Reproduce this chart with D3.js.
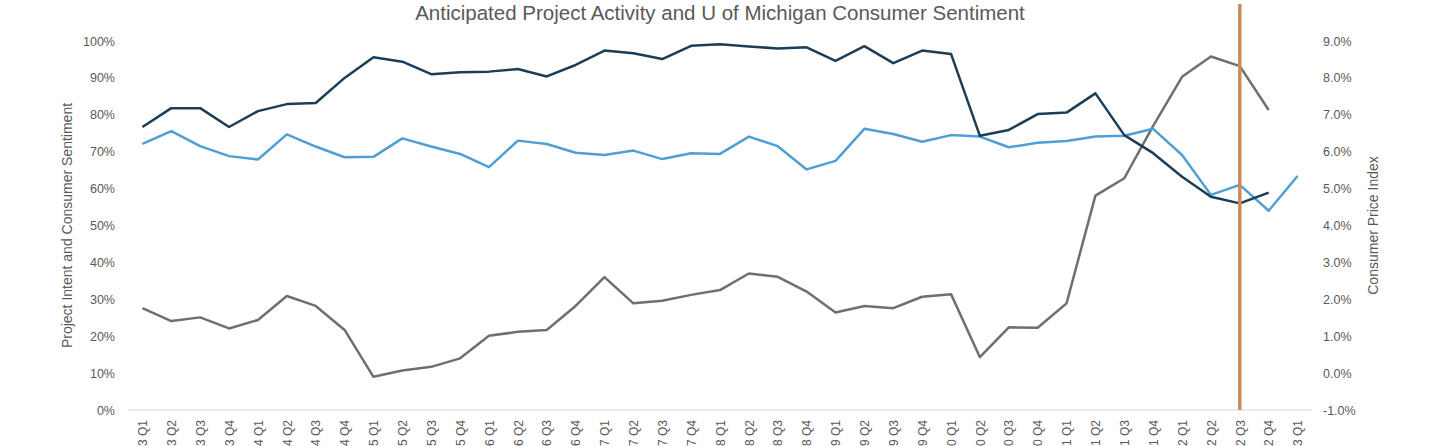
<!DOCTYPE html>
<html>
<head>
<meta charset="utf-8">
<script src="https://cdn.jsdelivr.net/npm/d3@7"></script>
<style>
  html, body { margin: 0; padding: 0; background: #fff; overflow: hidden; }
  svg { display: block; font-family: "Liberation Sans", Arial, sans-serif; }
</style>
</head>
<body>
<svg id="chart" width="1440" height="446"></svg>
<script>
const categories = [
  "2013 Q1","2013 Q2","2013 Q3","2013 Q4",
  "2014 Q1","2014 Q2","2014 Q3","2014 Q4",
  "2015 Q1","2015 Q2","2015 Q3","2015 Q4",
  "2016 Q1","2016 Q2","2016 Q3","2016 Q4",
  "2017 Q1","2017 Q2","2017 Q3","2017 Q4",
  "2018 Q1","2018 Q2","2018 Q3","2018 Q4",
  "2019 Q1","2019 Q2","2019 Q3","2019 Q4",
  "2020 Q1","2020 Q2","2020 Q3","2020 Q4",
  "2021 Q1","2021 Q2","2021 Q3","2021 Q4",
  "2022 Q1","2022 Q2","2022 Q3","2022 Q4",
  "2023 Q1"
];

// Project intent (left axis, %)
const projectIntent = [
  76.7, 81.8, 81.8, 76.7, 81.0, 82.9, 83.2, 90.0,
  95.6, 94.4, 91.0, 91.5, 91.7, 92.4, 90.4, 93.5,
  97.4, 96.7, 95.1, 98.7, 99.1, 98.5, 98.0, 98.3,
  94.6, 98.6, 94.0, 97.4, 96.5, 74.3, 75.9, 80.2,
  80.6, 85.8, 74.5, 69.6, 63.2, 57.8, 56.0, 58.9, null
];

// U of Michigan consumer sentiment (left axis, %)
const consumerSentiment = [
  72.1, 75.6, 71.5, 68.8, 67.9, 74.7, 71.4, 68.5,
  68.6, 73.6, 71.4, 69.4, 65.8, 73.0, 72.1, 69.7,
  69.1, 70.3, 68.0, 69.6, 69.4, 74.1, 71.5, 65.2,
  67.5, 76.2, 74.8, 72.7, 74.5, 74.1, 71.2, 72.4,
  72.9, 74.1, 74.3, 76.2, 69.1, 58.3, 61.0, 54.0, 63.4
];

// Consumer price index (right axis, %)
const cpi = [
  1.76, 1.41, 1.51, 1.21, 1.44, 2.09, 1.82, 1.17,
  -0.10, 0.07, 0.17, 0.40, 1.01, 1.12, 1.17, 1.82,
  2.60, 1.89, 1.96, 2.12, 2.25, 2.70, 2.61, 2.21,
  1.64, 1.82, 1.76, 2.07, 2.14, 0.43, 1.24, 1.23,
  1.89, 4.81, 5.28, 6.70, 8.03, 8.58, 8.32, 7.13, null
];

const leftTicks = [0, 10, 20, 30, 40, 50, 60, 70, 80, 90, 100];
const rightTicks = [-1, 0, 1, 2, 3, 4, 5, 6, 7, 8, 9];
const markerCategory = "2022 Q3";

const title = "Anticipated Project Activity and U of Michigan Consumer Sentiment";
const leftTitle = "Project Intent and Consumer Sentiment";
const rightTitle = "Consumer Price Index";

const svg = d3.select("#chart");
const plot = { left: 128, right: 1312, top: 41, bottom: 410 };
const textColor = "#595959";

const x = d3.scalePoint().domain(categories).range([plot.left, plot.right]).padding(0.5);
const yL = d3.scaleLinear().domain([0, 100]).range([plot.bottom, plot.top]);
const yR = d3.scaleLinear().domain([-1, 9]).range([plot.bottom, plot.top]);

// Baseline
svg.append("line")
  .attr("x1", plot.left).attr("x2", plot.right)
  .attr("y1", plot.bottom).attr("y2", plot.bottom)
  .attr("stroke", "#d9d9d9").attr("stroke-width", 1);

// Left axis
const leftAxis = d3.axisLeft(yL).tickValues(leftTicks).tickSize(0).tickPadding(0)
  .tickFormat(d => d + "%");
const gL = svg.append("g").attr("transform", `translate(${115},0)`).call(leftAxis);
gL.select(".domain").remove();
gL.selectAll("text").attr("fill", textColor).attr("font-size", 12.5)
  .attr("font-family", "Liberation Sans, Arial, sans-serif");

// Right axis
const rightAxis = d3.axisRight(yR).tickValues(rightTicks).tickSize(0).tickPadding(0)
  .tickFormat(d => d.toFixed(1) + "%");
const gR = svg.append("g").attr("transform", `translate(${1323},0)`).call(rightAxis);
gR.select(".domain").remove();
gR.selectAll("text").attr("fill", textColor).attr("font-size", 12.5)
  .attr("font-family", "Liberation Sans, Arial, sans-serif");

// X axis labels (rotated, cut by the bottom edge as in the original)
const xAxis = d3.axisBottom(x).tickSize(0).tickPadding(0);
const gX = svg.append("g").attr("transform", `translate(0,${plot.bottom})`).call(xAxis);
gX.select(".domain").remove();
gX.selectAll("text")
  .attr("fill", textColor).attr("font-size", 12)
  .attr("font-family", "Liberation Sans, Arial, sans-serif")
  .attr("text-anchor", "end")
  .attr("transform", "translate(0,10) rotate(-90)")
  .attr("x", 0).attr("y", 0).attr("dy", "0.35em");

// Axis titles
svg.append("text")
  .attr("transform", `translate(72,${(plot.top + plot.bottom) / 2}) rotate(-90)`)
  .attr("text-anchor", "middle").attr("font-size", 14).attr("fill", textColor)
  .text(leftTitle);
svg.append("text")
  .attr("transform", `translate(1378,${(plot.top + plot.bottom) / 2}) rotate(-90)`)
  .attr("text-anchor", "middle").attr("font-size", 14).attr("fill", textColor)
  .text(rightTitle);

// Title
svg.append("text")
  .attr("x", (plot.left + plot.right) / 2).attr("y", 20)
  .attr("text-anchor", "middle").attr("font-size", 20.5).attr("fill", textColor)
  .text(title);

// Lines
const lineL = d3.line().defined(d => d != null).x((d, i) => x(categories[i])).y(d => yL(d));
const lineR = d3.line().defined(d => d != null).x((d, i) => x(categories[i])).y(d => yR(d));

svg.append("path").datum(cpi).attr("d", lineR)
  .attr("fill", "none").attr("stroke", "#6f6f6f").attr("stroke-width", 2.5)
  .attr("stroke-linejoin", "round");
svg.append("path").datum(consumerSentiment).attr("d", lineL)
  .attr("fill", "none").attr("stroke", "#4f9fd6").attr("stroke-width", 2.5)
  .attr("stroke-linejoin", "round");
svg.append("path").datum(projectIntent).attr("d", lineL)
  .attr("fill", "none").attr("stroke", "#1c3d58").attr("stroke-width", 2.5)
  .attr("stroke-linejoin", "round");

// Vertical marker
svg.append("line")
  .attr("x1", x(markerCategory)).attr("x2", x(markerCategory))
  .attr("y1", 4).attr("y2", plot.bottom)
  .attr("stroke", "#cd8c5c").attr("stroke-width", 3.5);
</script>
</body>
</html>
